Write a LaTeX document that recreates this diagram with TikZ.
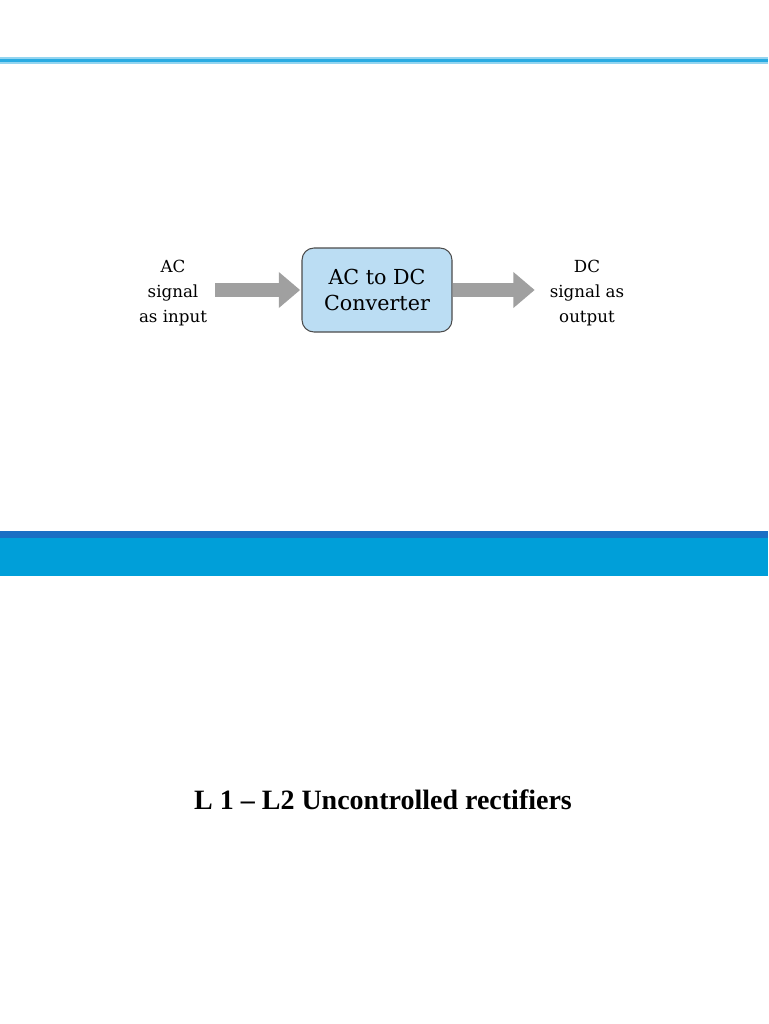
\documentclass[tikz,border=0pt]{standalone}
\usepackage{fontspec}
\setmainfont{DejaVu Serif}
\newfontfamily\titlefont{Liberation Serif}
\usetikzlibrary{arrows.meta}
\definecolor{topblue}{HTML}{29ABE2}
\definecolor{banddark}{HTML}{1A6FC4}
\definecolor{bandlight}{HTML}{009FD9}
\definecolor{boxfill}{HTML}{BBDDF3}
\definecolor{arrgray}{HTML}{A0A0A0}
\begin{document}
\begin{tikzpicture}[x=0.75pt,y=-0.75pt,
  lbl/.style={align=center,font=\fontsize{12.5}{18.5}\selectfont,inner sep=0pt},
  flow/.style={arrgray,line width=10.5pt,-{Triangle[length=16pt,width=26pt]},shorten >=1pt}]
\useasboundingbox (0,0) rectangle (768,1024);
\fill[white] (0,0) rectangle (768,1024);
\fill[topblue!50] (0,57) rectangle (768,64);
\fill[topblue] (0,59) rectangle (768,62);
\fill[banddark] (0,531) rectangle (768,538);
\fill[bandlight] (0,538) rectangle (768,576);
\node[draw=black!70,line width=0.8pt,fill=boxfill,rounded corners=9pt,minimum width=150*0.75pt,minimum height=84*0.75pt,align=center,font=\fontsize{15.5}{19.5}\selectfont] (conv) at (377,290) {AC to DC\\Converter};
\node[lbl] (in) at (173,293) {AC\\signal\\as input};
\node[lbl] (out) at (587,293) {DC\\signal as\\output};
\coordinate (a1) at (215,290);
\coordinate (b2) at (536,290);
\draw[flow] (a1) -- (conv.west);
\draw[flow] (conv.east) -- (b2);
\node[font=\titlefont\bfseries\fontsize{21}{25}\selectfont] (title) at (383,800) {L 1 – L2 Uncontrolled rectifiers};
\end{tikzpicture}
\end{document}
